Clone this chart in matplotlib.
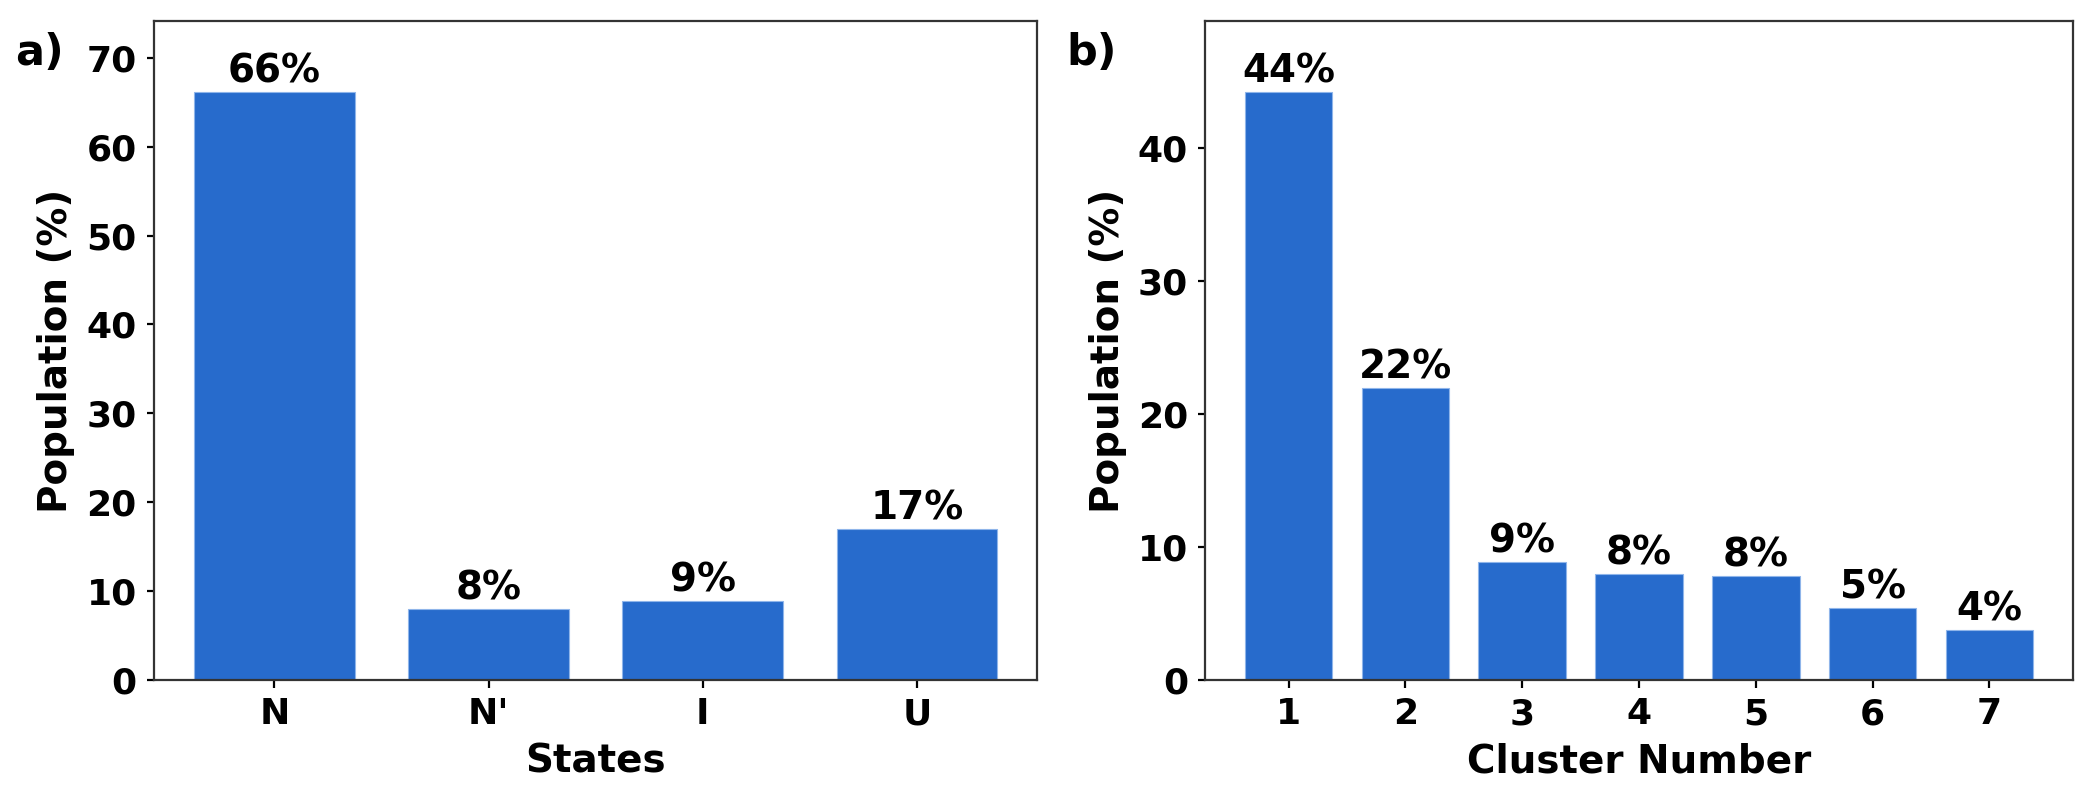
import matplotlib
matplotlib.use("Agg")
import matplotlib.pyplot as plt

# --- Datos ---
estados = ["N", "N'", "I", "U"]
pob_estados = [66.2, 8.0, 8.9, 16.95]

clusters = ["1", "2", "3", "4", "5", "6", "7"]
pob_clusters = [44.2, 21.95, 8.85, 7.95, 7.8, 5.4, 3.75]

color_barra = "#276bcc"

plt.rcParams["font.family"] = "DejaVu Sans"
plt.rcParams["font.weight"] = "bold"

fig = plt.figure(figsize=(10.5, 3.925), dpi=200)
ax_a = fig.add_axes([0.0733, 0.134, 0.4207, 0.839])
ax_b = fig.add_axes([0.574, 0.134, 0.413, 0.839])


def panel(ax, etiquetas, valores, xlabel):
    barras = ax.bar(etiquetas, valores, width=0.75, color=color_barra,
                    edgecolor="#8fb5ea", linewidth=0.4)
    ax.bar_label(barras, labels=[f"{round(v)}%" for v in valores],
                 padding=0.5, fontsize=14, fontweight="bold")
    ax.set_ylim(0, max(valores) * 1.12)
    ax.set_xlabel(xlabel, fontsize=14, fontweight="bold", labelpad=4)
    ax.set_ylabel("Population (%)", fontsize=14, fontweight="bold")
    ax.tick_params(labelsize=13, length=2.7)
    for lbl in ax.get_xticklabels() + ax.get_yticklabels():
        lbl.set_fontweight("bold")
    for s in ax.spines.values():
        s.set_color("#333333")


panel(ax_a, estados, pob_estados, "States")
panel(ax_b, clusters, pob_clusters, "Cluster Number")
ax_a.set_yticks(range(0, 80, 10))

fig.text(0.007, 0.932, "a)", fontsize=15.5, fontweight="bold", va="center")
fig.text(0.508, 0.932, "b)", fontsize=15.5, fontweight="bold", va="center")

fig.savefig("out.png", dpi=200)
